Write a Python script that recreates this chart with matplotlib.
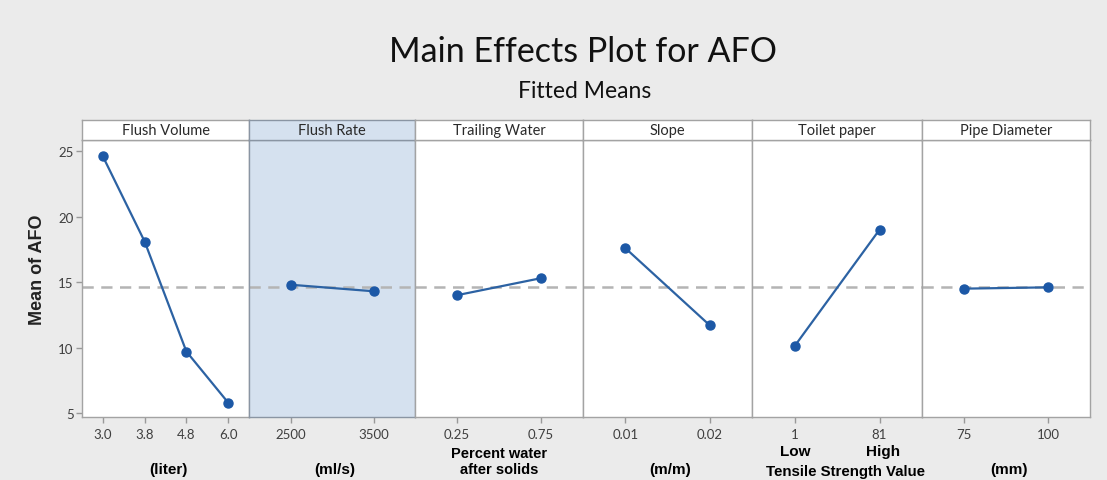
import matplotlib
matplotlib.use("Agg")
import matplotlib.pyplot as plt

# ---- data ----
factors = ["Flush Volume", "Flush Rate", "Trailing Water", "Slope", "Toilet paper", "Pipe Diameter"]
flush_volume_levels = ["3.0", "3.8", "4.8", "6.0"]
flush_volume_means = [24.6, 18.1, 9.7, 5.8]
flush_rate_levels = ["2500", "3500"]
flush_rate_means = [14.8, 14.3]
trailing_water_levels = ["0.25", "0.75"]
trailing_water_means = [14.0, 15.3]
slope_levels = ["0.01", "0.02"]
slope_means = [17.6, 11.7]
toilet_paper_levels = ["1", "81"]
toilet_paper_means = [10.1, 19.0]
pipe_diameter_levels = ["75", "100"]
pipe_diameter_means = [14.5, 14.6]
unit_labels = ["(liter)", "(ml/s)", "Percent water\nafter solids", "(m/m)", "Tensile Strength Value", "(mm)"]
toilet_level_words = ["Low", "High"]
grand_mean = 14.6
y_ticks = [5, 10, 15, 20, 25]

levels = [flush_volume_levels, flush_rate_levels, trailing_water_levels,
          slope_levels, toilet_paper_levels, pipe_diameter_levels]
means = [flush_volume_means, flush_rate_means, trailing_water_means,
         slope_means, toilet_paper_means, pipe_diameter_means]

# ---- layout ----
W, H = 1107, 481
fig = plt.figure(figsize=(W / 100, H / 100), dpi=100)
BG = "#ebebeb"
fig.patch.set_facecolor(BG)

edges = [82, 249, 415, 583, 752, 922, 1090]
ax_top, ax_bot, strip_top = 141, 418, 121
LINE = "#2c62a3"
MARK = "#1c58a6"
SPINE = "#a3a3a3"
TICKC = "#3f3f3f"
FONT = "Lato"

def fx(x):
    return x / W

def fy(y):
    return 1 - y / H

for i, name in enumerate(factors):
    x0, x1 = edges[i], edges[i + 1]
    ax = fig.add_axes([fx(x0), fy(ax_bot), fx(x1 - x0), (ax_bot - ax_top) / H])
    highlighted = (name == "Flush Rate")
    face = "#d5e1ef" if highlighted else "white"
    ax.set_facecolor(face)
    n = len(levels[i])
    xs = list(range(n))
    ax.axhline(grand_mean, color="#b4b4b4", lw=1.8, ls=(0, (4.5, 3)), zorder=1)
    ax.plot(xs, means[i], color=LINE, lw=1.6, marker="o", ms=6.5,
            mfc=MARK, mec=MARK, zorder=3)
    ax.set_xlim(-0.5, n - 0.5)
    ax.set_ylim(4.7, 25.85)
    ax.set_xticks(xs)
    ax.set_xticklabels(levels[i], fontsize=9.5, color=TICKC, family=FONT)
    ax.tick_params(axis="x", length=4, width=1, color="#999999", pad=4)
    if i == 0:
        ax.set_yticks(y_ticks)
        ax.set_yticklabels([str(v) for v in y_ticks], fontsize=9.5, color=TICKC, family=FONT)
        ax.tick_params(axis="y", length=4, width=1, color="#999999", pad=2)
    else:
        ax.set_yticks([])
    for sp in ax.spines.values():
        sp.set_color("#8a95a3" if highlighted else SPINE)
        sp.set_linewidth(1.0)

    # strip
    sax = fig.add_axes([fx(x0), fy(ax_top), fx(x1 - x0), (ax_top - strip_top) / H])
    sax.set_facecolor(face)
    sax.set_xticks([])
    sax.set_yticks([])
    for sp in sax.spines.values():
        sp.set_color("#8a95a3" if highlighted else SPINE)
        sp.set_linewidth(1.0)
    sax.text(0.5, 0.5, name, ha="center", va="center", fontsize=10.5,
             color="#2a2a2a", family=FONT, transform=sax.transAxes)

    # unit labels
    cx = (x0 + x1) / 2
    if name == "Trailing Water":
        fig.text(fx(cx), fy(462), unit_labels[i], ha="center", va="center",
                 fontsize=10.5, fontweight="bold", family="Liberation Sans",
                 linespacing=1.1)
    elif name == "Toilet paper":
        for j, word in enumerate(toilet_level_words):
            xp = ax.transData.transform((xs[j], 0))[0]
            fig.text(xp / W + (0.003 if j else 0.001), fy(452), word, ha="center", va="center",
                     fontsize=11, fontweight="bold", family="Liberation Sans")
        fig.text(fx(cx + 9), fy(472), unit_labels[i], ha="center", va="center",
                 fontsize=10.8, fontweight="bold", family="Liberation Sans")
    else:
        fig.text(fx(cx + 3), fy(470), unit_labels[i], ha="center", va="center",
                 fontsize=11, fontweight="bold", family="Liberation Sans")

fig.text(fx(37), fy(270), "Mean of AFO", rotation=90, ha="center", va="center",
         fontsize=13, fontweight="bold", family="Liberation Sans", color="#222222")

fig.text(fx(583), fy(52), "Main Effects Plot for AFO", ha="center", va="center",
         fontsize=24.5, family=FONT, color="#111111")
fig.text(fx(585), fy(91), "Fitted Means", ha="center", va="center",
         fontsize=16.5, family=FONT, color="#111111")

fig.savefig("out.png", dpi=100, facecolor=BG)
